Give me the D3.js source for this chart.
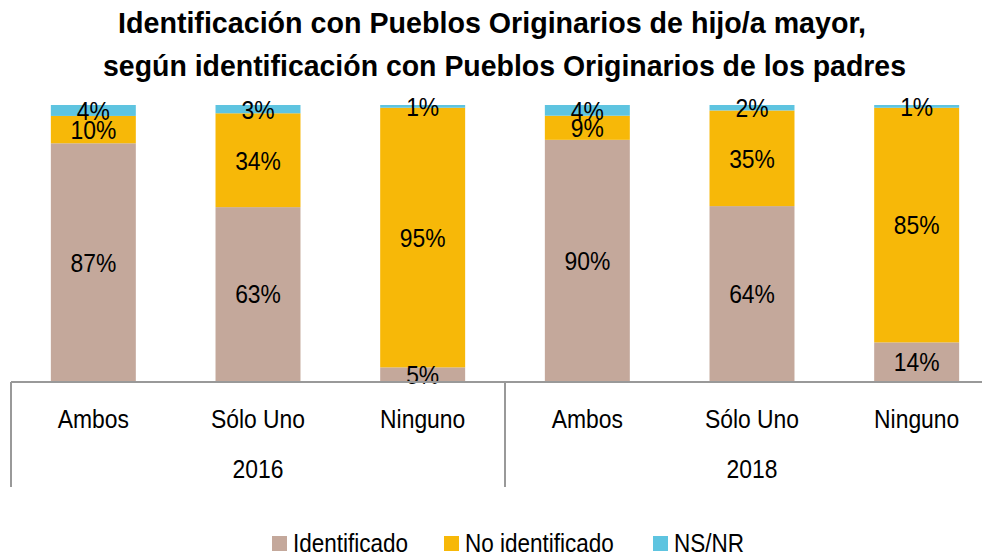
<!DOCTYPE html>
<html>
<head>
<meta charset="utf-8">
<script src="https://cdn.jsdelivr.net/npm/d3@7"></script>
<style>
  body { margin: 0; background: #fff; }
  text { font-family: 'Liberation Sans', Arial, sans-serif; fill: #000; }
</style>
</head>
<body>
<script>
const years = ['2016', '2018'];
const categories = ['Ambos', 'Sólo Uno', 'Ninguno'];
const series = ['Identificado', 'No identificado', 'NS/NR'];
// valores por año y categoría, en el orden de categories
const identificado = [87, 63, 5, 90, 64, 14];
const noIdentificado = [10, 34, 95, 9, 35, 85];
const nsnr = [4, 3, 1, 4, 2, 1];
const colors = ['#c4a89b', '#f7b808', '#5ec4e0'];

const titleLines = [
  'Identificación con Pueblos Originarios de hijo/a mayor,',
  'según identificación con Pueblos Originarios de los padres'
];

const width = 982;
const height = 558;
const axisY = 381;
const squeeze = 0.88; // imita la letra angosta del original

const rows = [];
years.forEach((y, i) => {
  categories.forEach((c, j) => {
    const k = i * categories.length + j;
    rows.push({
      year: y, cat: c,
      'Identificado': identificado[k],
      'No identificado': noIdentificado[k],
      'NS/NR': nsnr[k]
    });
  });
});

const stacked = d3.stack()
  .keys(series)
  .offset(d3.stackOffsetExpand)(rows);

const xYear = d3.scaleBand()
  .domain(years)
  .range([11, 999]);

const xCat = d3.scaleBand()
  .domain(categories)
  .range([0, xYear.bandwidth()])
  .paddingInner(0.484)
  .paddingOuter(0.242);

const yScale = d3.scaleLinear()
  .domain([0, 1])
  .range([axisY, 105]);

const color = d3.scaleOrdinal().domain(series).range(colors);

const svg = d3.select('body')
  .append('svg')
  .attr('width', width)
  .attr('height', height);

const place = (x, y) => `translate(${x}, ${y}) scale(${squeeze}, 1)`;

// title
const titleX = [118, 103];
const titleLen = [748, 803];
svg.selectAll('.title')
  .data(titleLines)
  .enter()
  .append('text')
  .attr('class', 'title')
  .attr('x', (d, i) => titleX[i])
  .attr('y', (d, i) => 33 + i * 43)
  .attr('textLength', (d, i) => titleLen[i])
  .attr('lengthAdjust', 'spacingAndGlyphs')
  .style('font-size', '29px')
  .style('font-weight', 'bold')
  .text(d => d);

const barX = d => xYear(d.data.year) + xCat(d.data.cat);

const layers = svg.selectAll('.layer')
  .data(stacked)
  .enter()
  .append('g')
  .attr('class', 'layer')
  .attr('fill', d => color(d.key));

layers.selectAll('rect')
  .data(d => d)
  .enter()
  .append('rect')
  .attr('x', barX)
  .attr('width', xCat.bandwidth())
  .attr('y', d => yScale(d[1]))
  .attr('height', d => yScale(d[0]) - yScale(d[1]));

// etiquetas de valores
stacked.forEach(s => {
  svg.append('g').selectAll('text')
    .data(s)
    .enter()
    .append('text')
    .attr('transform', d => place(barX(d) + xCat.bandwidth() / 2, (yScale(d[0]) + yScale(d[1])) / 2))
    .attr('dy', '0.36em')
    .attr('text-anchor', 'middle')
    .style('font-size', '26px')
    .text(d => d.data[s.key] + '%');
});

// eje x jerarquico
const axis = svg.append('g')
  .attr('stroke', '#999')
  .attr('stroke-width', 2);

axis.append('line')
  .attr('x1', 11).attr('x2', 999)
  .attr('y1', axisY + 1).attr('y2', axisY + 1);

axis.selectAll('.sep')
  .data(years.concat(['end']))
  .enter()
  .append('line')
  .attr('x1', (d, i) => i < years.length ? xYear(d) : xYear.range()[1])
  .attr('x2', (d, i) => i < years.length ? xYear(d) : xYear.range()[1])
  .attr('y1', axisY + 1)
  .attr('y2', 487);

years.forEach(y => {
  svg.append('g').selectAll('text')
    .data(categories)
    .enter()
    .append('text')
    .attr('transform', c => place(xYear(y) + xCat(c) + xCat.bandwidth() / 2, 428))
    .attr('text-anchor', 'middle')
    .style('font-size', '26px')
    .text(c => c);
});

svg.append('g').selectAll('text')
  .data(years)
  .enter()
  .append('text')
  .attr('transform', y => place(xYear(y) + xYear.bandwidth() / 2, 478))
  .attr('text-anchor', 'middle')
  .style('font-size', '26px')
  .text(y => y);

// leyenda
const legendX = [272, 444, 653];
const legend = svg.selectAll('.legend')
  .data(series)
  .enter()
  .append('g')
  .attr('class', 'legend')
  .attr('transform', (d, i) => `translate(${legendX[i]}, 536)`);

legend.append('rect')
  .attr('width', 15)
  .attr('height', 15)
  .attr('fill', d => color(d));

legend.append('text')
  .attr('transform', `translate(21, 16) scale(${squeeze + 0.02}, 1)`)
  .style('font-size', '25px')
  .text(d => d);
</script>
</body>
</html>
